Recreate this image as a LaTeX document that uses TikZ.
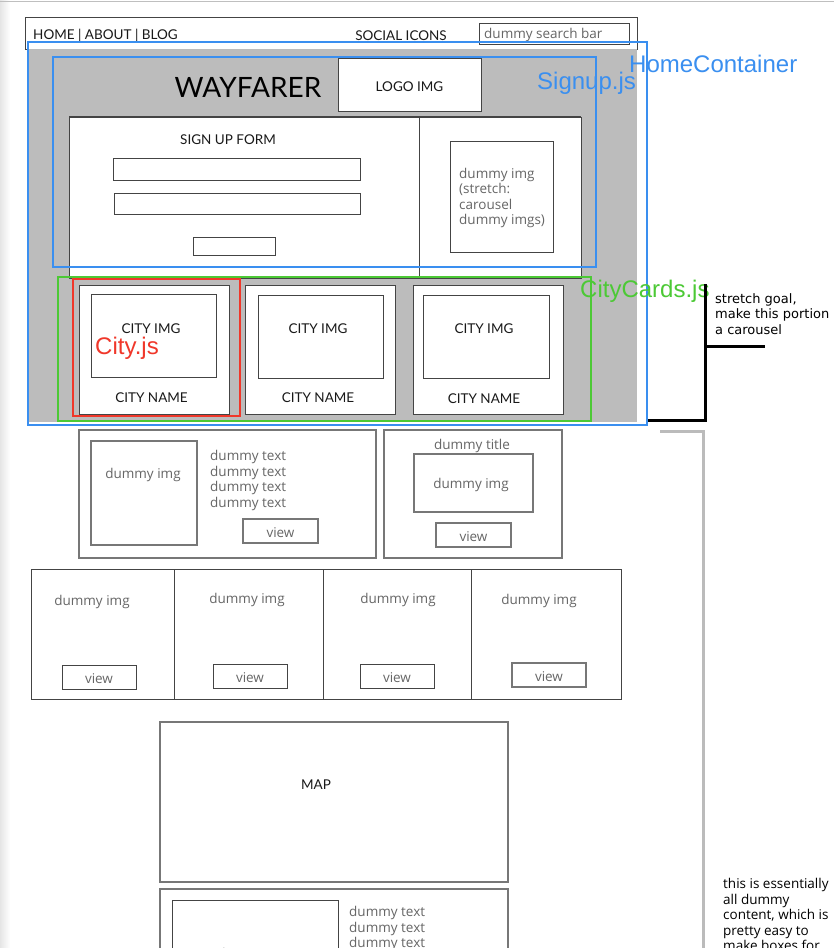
\documentclass[tikz,border=0pt]{standalone}
\usepackage{fontspec}
\setmainfont{Open Sans}
\newfontfamily\capsfont{Lato}
\newfontfamily\labfont{Liberation Sans}
\newfontfamily\notefont{DejaVu Sans}
\usetikzlibrary{fit}
\definecolor{bgray}{HTML}{BCBCBC}
\definecolor{hblue}{HTML}{3A8FF0}
\definecolor{cgreen}{HTML}{4CC935}
\definecolor{cred}{HTML}{F0372A}
\definecolor{dtext}{HTML}{666666}
\definecolor{edge}{HTML}{444444}
\definecolor{soft}{HTML}{777777}
\definecolor{lgray}{HTML}{BBBBBB}
\newcommand\wbox[6]{\node[#2, inner sep=0pt, outer sep=0pt, fit={(#3,#4) (#5,#6)}] (#1) {};}
\begin{document}
\begin{tikzpicture}[x=1pt,y=-1pt,
  frame/.style={draw=edge, fill=white, line width=1pt},
  softframe/.style={draw=soft, fill=white, line width=1.3pt},
  caps/.style={font=\capsfont\fontsize{13.5}{16}\selectfont, text=black!90, inner sep=0pt, yshift=-2pt},
  dummy/.style={font=\fontsize{13.5}{15.5}\selectfont, text=dtext, inner sep=0pt, align=left, yshift=-2pt},
  lab/.style={font=\labfont\fontsize{24}{28}\selectfont, inner sep=0pt, anchor=west, yshift=-1.5pt},
  note/.style={font=\notefont\fontsize{13}{15.5}\selectfont, text=black, inner sep=0pt, align=left, anchor=west, yshift=-1pt},
  bnote/.style={font=\fontsize{13.5}{15.5}\selectfont, text=black, inner sep=0pt, align=left, anchor=west},
  colbox/.style={draw=#1, line width=2pt},
  bracket/.style={draw=black, line width=3pt},
  gbracket/.style={draw=lgray, line width=3pt}]
\useasboundingbox (0,0) rectangle (834,948);
\clip (0,0) rectangle (834,948);
\fill[white] (0,0) rectangle (834,948);
\shade[left color=black!10, right color=white] (0,0) rectangle (10,948);
\draw[black!25, line width=1.2pt] (0,1.5) -- (834,1.5);

% header
\wbox{nav}{frame}{25}{17}{637}{49}
\node[caps, anchor=west] (menu) at (33,34) {HOME | ABOUT | BLOG};
\node[caps] (social) at (401,34) {SOCIAL ICONS};
\wbox{search}{frame}{479}{23}{629}{44}
\node[dummy, anchor=west] (searchtxt) at (484,33) {dummy search bar};

% hero background
\wbox{hero}{fill=bgray}{27}{49}{637}{422}
\node[font=\capsfont\fontsize{28}{32}\selectfont, inner sep=0pt, text=black, yshift=-1.5pt] (title) at (248,86) {WAYFARER};
\wbox{logo}{frame}{338}{58}{481}{111}
\node[caps] (logotxt) at (logo.center) {LOGO IMG};

% signup
\wbox{signup}{frame}{69}{117}{581}{278}
\draw[edge, line width=1.5pt] (signup.north west) -- (signup.north east);
\coordinate (divtop) at (419,117);
\coordinate (divbot) at (419,278);
\draw[edge, line width=1pt] (divtop) -- (divbot);
\node[caps] (formtxt) at (228,138) {SIGN UP FORM};
\wbox{in1}{frame}{113}{158}{360}{180}
\wbox{in2}{frame}{114}{193}{360}{214}
\wbox{btn}{frame}{193}{237}{275}{255}
\wbox{carimg}{frame}{450}{141}{553}{252}
\node[dummy, anchor=west] (cartxt) at (459,196) {dummy img\\(stretch:\\carousel\\dummy imgs)};

% city cards
\wbox{card1}{frame}{79}{285}{229}{414}
\wbox{card2}{frame}{245}{285}{395}{414}
\wbox{card3}{frame}{413}{285}{563}{414}
\wbox{img1}{frame}{91}{294}{216}{377}
\wbox{img2}{frame}{258}{295}{383}{378}
\wbox{img3}{frame}{423}{295}{549}{378}
\node[caps] (ci1) at (151,327) {CITY IMG};
\node[caps] (ci2) at (318,327) {CITY IMG};
\node[caps] (ci3) at (484,327) {CITY IMG};
\node[caps] (cn1) at (151.5,396) {CITY NAME};
\node[caps] (cn2) at (318,396) {CITY NAME};
\node[caps] (cn3) at (484,397) {CITY NAME};

% component outlines
\wbox{home}{colbox=hblue}{28}{42}{647}{425}
\wbox{signjs}{colbox=hblue}{53}{57}{596}{267}
\wbox{cardsjs}{colbox=cgreen}{58}{277}{591}{421}
\wbox{cityjs}{colbox=cred}{73}{279}{240}{416}
\node[lab, text=hblue] (homelab) at (629,62) {HomeContainer};
\node[lab, text=hblue] (signlab) at (537,82) {Signup.js};
\node[lab, text=cgreen] (cardslab) at (580,290) {CityCards.js};
\node[lab, text=cred] (citylab) at (95,347) {City.js};

% stretch-goal bracket
\coordinate (b1) at (648,420);
\coordinate (b2) at (705,420);
\coordinate (b3) at (705,284);
\coordinate (b4) at (705,346);
\coordinate (b5) at (765,346);
\draw[bracket] (b1) -- (b2) -- (b3);
\draw[bracket] (b4) -- (b5);
\node[note] (stretchnote) at (715,313) {stretch goal,\\make this portion\\a carousel};

% dummy-content bracket
\coordinate (g1) at (660,431);
\coordinate (g2) at (703,431);
\coordinate (g3) at (703,960);
\draw[gbracket] (g1) -- (g2) -- (g3);
\node[bnote] (dummynote) at (723,914.5) {this is essentially\\all dummy\\content, which is\\pretty easy to\\make boxes for};

% section 2
\wbox{boxa}{softframe}{79}{430}{376}{558}
\wbox{aimg}{softframe}{91}{441}{197}{545}
\node[dummy] (aimgtxt) at (143,473) {dummy img};
\node[dummy, anchor=west] (atext) at (210,478.5) {dummy text\\dummy text\\dummy text\\dummy text};
\wbox{aview}{softframe}{243}{519}{318}{543}
\node[dummy] (aviewtxt) at (aview.center) {view};
\wbox{boxb}{softframe}{384}{430}{562}{558}
\node[dummy] (btitle) at (472,444) {dummy title};
\wbox{bimg}{softframe}{414}{454}{533}{512}
\node[dummy] (bimgtxt) at (471,483) {dummy img};
\wbox{bview}{softframe}{436}{523}{511}{547}
\node[dummy] (bviewtxt) at (bview.center) {view};

% section 3
\wbox{s1}{frame}{31}{569}{174}{699}
\wbox{s2}{frame}{174}{569}{323}{699}
\wbox{s3}{frame}{323}{569}{471}{699}
\wbox{s4}{frame}{471}{569}{621}{699}
\node[dummy] (s1t) at (92,600) {dummy img};
\node[dummy] (s2t) at (247,598) {dummy img};
\node[dummy] (s3t) at (398,598) {dummy img};
\node[dummy] (s4t) at (539,599) {dummy img};
\wbox{v1}{frame}{62}{665}{136}{689}
\wbox{v2}{frame}{213}{664}{287}{688}
\wbox{v3}{frame}{360}{664}{434}{688}
\wbox{v4}{softframe}{512}{663}{586}{687}
\node[dummy] (v1t) at (v1.center) {view};
\node[dummy] (v2t) at (v2.center) {view};
\node[dummy] (v3t) at (v3.center) {view};
\node[dummy] (v4t) at (v4.center) {view};

% section 4
\wbox{map}{softframe}{160}{722}{508}{882}
\node[caps] (maptxt) at (316,783) {MAP};
\wbox{last}{softframe}{160}{889}{508}{970}
\wbox{limg}{frame}{172}{900}{338}{970}
\node[dummy] (limgtxt) at (255,953) {dummy img};
\node[dummy, anchor=west] (ltext) at (349,934.5) {dummy text\\dummy text\\dummy text\\dummy text};
\end{tikzpicture}
\end{document}
